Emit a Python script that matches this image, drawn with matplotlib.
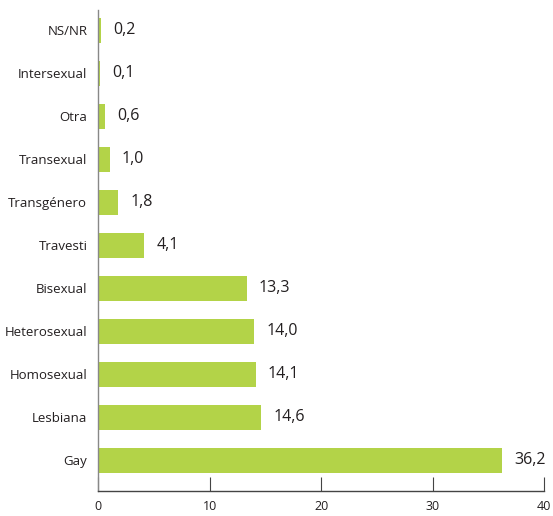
import matplotlib
matplotlib.use('Agg')
import matplotlib.pyplot as plt

categories = ['Gay', 'Lesbiana', 'Homosexual', 'Heterosexual', 'Bisexual', 'Travesti',
              'Transgénero', 'Transexual', 'Otra', 'Intersexual', 'NS/NR']
values = [36.2, 14.6, 14.1, 14.0, 13.3, 4.1, 1.8, 1.0, 0.6, 0.1, 0.2]
xticks = [0, 10, 20, 30, 40]

plt.rcParams['font.family'] = ['Open Sans', 'DejaVu Sans']

fig = plt.figure(figsize=(5.53, 5.16), dpi=100)
ax = fig.add_axes([0.178, 0.048, 0.806, 0.933])

ypos = list(range(len(categories)))
ax.barh(ypos, values, height=0.58, color='#b3d348')
for y, v in zip(ypos, values):
    ax.text(v + 1.1, y, f'{v:.1f}'.replace('.', ','), va='center', ha='left',
            fontsize=11.5, color='#231f20')

ax.set_xlim(0, 40)
ax.set_ylim(-0.72, len(categories) - 1 + 0.47)
ax.set_yticks(ypos)
ax.set_yticklabels(categories, fontsize=9.5, color='#231f20')
ax.set_xticks(xticks)
ax.set_xticklabels([str(t) for t in xticks], fontsize=9, color='#231f20')
ax.tick_params(axis='y', length=0, pad=8)
ax.tick_params(axis='x', direction='in', length=10, width=0.8, color='#444444', pad=6)
for s in ['top', 'right']:
    ax.spines[s].set_visible(False)
ax.spines['left'].set_color('#888888')
ax.spines['bottom'].set_color('#444444')
ax.spines['left'].set_linewidth(1.0)
ax.spines['bottom'].set_linewidth(1.0)

fig.savefig('out.png', dpi=100)
